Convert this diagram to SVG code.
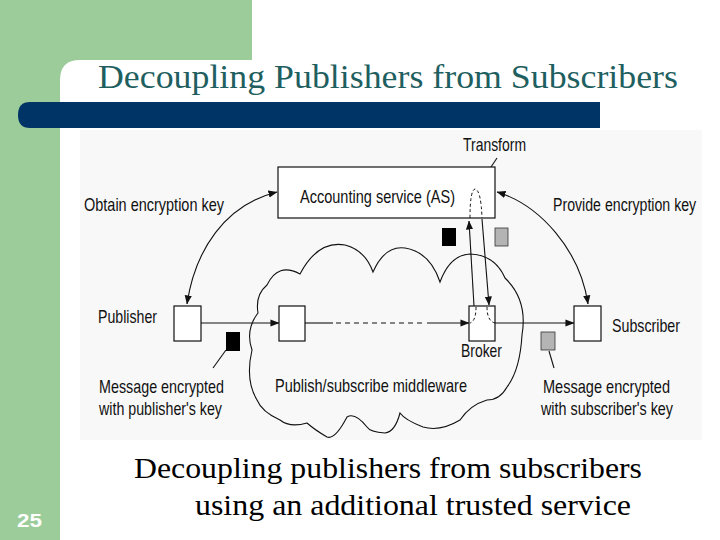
<svg xmlns="http://www.w3.org/2000/svg" width="720" height="540" viewBox="0 0 720 540">
<style>
.lbl{font-family:"Liberation Sans Narrow","Liberation Sans",Arial,sans-serif;font-size:19px;fill:#111}
.box{fill:#fff;stroke:#111;stroke-width:1.2}
.ln{fill:none;stroke:#111;stroke-width:1.1}
.dash{fill:none;stroke:#111;stroke-width:1.1;stroke-dasharray:5 4}
.dot{fill:none;stroke:#111;stroke-width:1;stroke-dasharray:3 2.5}
.serif{font-family:"Liberation Serif","Times New Roman",serif}
</style>
<defs>
<marker id="ah" viewBox="0 0 10 10" refX="9.5" refY="5" markerWidth="9" markerHeight="9" markerUnits="userSpaceOnUse" orient="auto">
<path d="M0,1 L10,5 L0,9 Z" fill="#111"/>
</marker>
<marker id="ahs" viewBox="0 0 10 10" refX="0.5" refY="5" markerWidth="9" markerHeight="9" markerUnits="userSpaceOnUse" orient="auto">
<path d="M10,1 L0,5 L10,9 Z" fill="#111"/>
</marker>
</defs>
<rect x="0" y="0" width="720" height="540" fill="#fff"/>
<g id="slide-frame">
<rect x="0" y="0" width="252" height="60" fill="#9ccc9a"/>
<rect x="0" y="0" width="60" height="540" fill="#9ccc9a"/>
<path d="M60,80 Q60,60 80,60 L80,60 L60,60 Z" fill="#9ccc9a"/>
<path d="M30,102 L600,102 L600,128 L30,128 Q18,128 18,115 Q18,102 30,102 Z" fill="#003366"/>
<text class="serif" x="98" y="88" font-size="33" fill="#1f5f5f" textLength="580" lengthAdjust="spacingAndGlyphs">Decoupling Publishers from Subscribers</text>
<text x="17" y="527" font-family="Liberation Sans Narrow,Liberation Sans,Arial,sans-serif" font-size="19" font-weight="bold" fill="#fff" textLength="25" lengthAdjust="spacingAndGlyphs">25</text>
<text class="serif" x="134" y="478" font-size="29" fill="#000" textLength="508" lengthAdjust="spacingAndGlyphs">Decoupling publishers from subscribers</text>
<text class="serif" x="195" y="515" font-size="29" fill="#000" textLength="436" lengthAdjust="spacingAndGlyphs">using an additional trusted service</text>
</g>
<rect x="80" y="130" width="622" height="310" fill="#f8f8f8"/>
<g id="cloud">
<path class="ln" d="M267,285 Q278,262 300,274 Q318,240 345,245 Q365,250 373,272 Q385,245 405,248 Q430,252 440,282 Q450,255 470,254 Q495,255 505,278 Q528,300 522,335 Q520,370 507,387 Q500,400 487,400 Q470,405 460,420 Q440,432 423,427 Q405,420 400,413 Q395,432 385,433 Q370,432 367,427 Q355,412 347,417 Q335,440 327,437 Q315,430 307,423 Q290,428 280,420 Q262,412 257,400 Q245,380 252,350 Q245,330 258,313 Q255,295 267,285 Z"/>
<text class="lbl" x="275" y="392" textLength="192" lengthAdjust="spacingAndGlyphs">Publish/subscribe middleware</text>
</g>
<g id="connectors">
<path class="ln" d="M201,323 L279,323" marker-end="url(#ah)"/>
<path class="ln" d="M305,323 L333,323"/>
<path class="dash" d="M336,323 L426,323"/>
<path class="ln" d="M427,323 L469,323" marker-end="url(#ah)"/>
<path class="ln" d="M495,323 L574,323" marker-end="url(#ah)"/>
<path class="ln" d="M187,304 C195,250 225,205 277,192" marker-start="url(#ahs)" marker-end="url(#ah)"/>
<path class="ln" d="M497,192 C540,205 580,250 588,304" marker-start="url(#ahs)" marker-end="url(#ah)"/>
<path class="ln" d="M474,306 L469,221" marker-end="url(#ah)"/>
<path class="ln" d="M482,219 L489,305" marker-end="url(#ah)"/>
<path class="ln" d="M497,158 L477,188"/>
<path class="ln" d="M226,350 L213,368"/>
<path class="ln" d="M549,351 L554,368"/>
</g>
<g id="as">
<rect class="box" x="278" y="167" width="217" height="51"/>
<text class="lbl" x="300" y="203" textLength="155" lengthAdjust="spacingAndGlyphs">Accounting service (AS)</text>
<path class="dot" d="M470,218 Q470,190 475,189 Q481,190 482,218"/>
</g>
<g id="transform-label">
<text class="lbl" x="463" y="151" textLength="63" lengthAdjust="spacingAndGlyphs">Transform</text>
</g>
<g id="publisher">
<rect class="box" x="174" y="306" width="27" height="35"/>
<text class="lbl" x="98" y="323" textLength="59" lengthAdjust="spacingAndGlyphs">Publisher</text>
</g>
<g id="middleware-node">
<rect class="box" x="279" y="306" width="26" height="35"/>
</g>
<g id="broker">
<rect class="box" x="469" y="306" width="26" height="35"/>
<path class="dot" d="M476,307 Q476,321 470,323"/>
<path class="dot" d="M487,307 Q487,321 495,323"/>
<text class="lbl" x="461" y="357" textLength="41" lengthAdjust="spacingAndGlyphs">Broker</text>
</g>
<g id="subscriber">
<rect class="box" x="574" y="306" width="27" height="35"/>
<text class="lbl" x="612" y="332" textLength="68" lengthAdjust="spacingAndGlyphs">Subscriber</text>
</g>
<g id="keys">
<rect x="442" y="228" width="14" height="18" fill="#000"/>
<rect x="495" y="228" width="13" height="18" fill="#b4b4b4" stroke="#333" stroke-width="0.8"/>
<rect x="226" y="332" width="14" height="19" fill="#000"/>
<rect x="541" y="332" width="14" height="18" fill="#b4b4b4" stroke="#333" stroke-width="0.8"/>
</g>
<g id="labels">
<text class="lbl" x="84" y="211" textLength="140" lengthAdjust="spacingAndGlyphs">Obtain encryption key</text>
<text class="lbl" transform="translate(553,211) scale(0.745,1)" x="0" y="0">Provide encryption key</text>
<text class="lbl" x="99" y="393" textLength="125" lengthAdjust="spacingAndGlyphs">Message encrypted</text>
<text class="lbl" x="99" y="415" textLength="123" lengthAdjust="spacingAndGlyphs">with publisher's key</text>
<text class="lbl" x="543" y="393" textLength="127" lengthAdjust="spacingAndGlyphs">Message encrypted</text>
<text class="lbl" x="541" y="415" textLength="132" lengthAdjust="spacingAndGlyphs">with subscriber's key</text>
</g>
</svg>
